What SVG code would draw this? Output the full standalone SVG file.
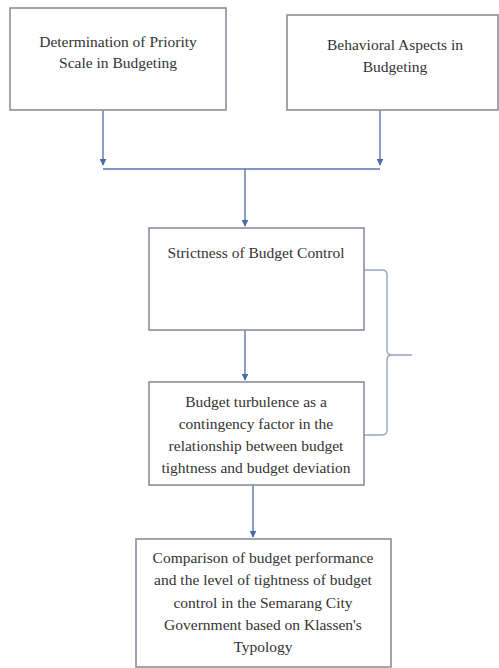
<svg xmlns="http://www.w3.org/2000/svg" width="499" height="668" viewBox="0 0 499 668">
<defs>
<marker id="ah" viewBox="0 0 10 10" refX="9" refY="5" markerWidth="7" markerHeight="7" markerUnits="userSpaceOnUse" orient="auto">
<path d="M0,0 L10,5 L0,10 z" fill="#4a6aa8"/>
</marker>
<style>
.box{fill:#ffffff;stroke:#8a8f99;stroke-width:1.6}
.t{font-family:'Liberation Serif','DejaVu Serif',serif;font-size:15.5px;fill:#333333;text-anchor:middle}
.c{fill:none;stroke:#5a76b0;stroke-width:1.4}
.br{fill:none;stroke:#9aa4bd;stroke-width:1.4}
</style>
</defs>
<rect width="499" height="668" fill="#ffffff"/>
<g id="connectors">
<path class="c" d="M103,110 V165" marker-end="url(#ah)"/>
<path class="c" d="M380,110 V165" marker-end="url(#ah)"/>
<path class="c" d="M103,169 H380"/>
<path class="c" d="M245,169 V226" marker-end="url(#ah)"/>
<path class="c" d="M245,330 V380" marker-end="url(#ah)"/>
<path class="c" d="M253,485 V537" marker-end="url(#ah)"/>
<path class="br" d="M364,270 H382 Q387,270 387,275 V350 Q387,355 392,355 H412 M392,355 Q387,355 387,360 V430 Q387,435 382,435 H364"/>
</g>
<g id="n1">
<rect class="box" x="10" y="8" width="216" height="102"/>
<text class="t" x="118" y="47">Determination of Priority</text>
<text class="t" x="118" y="68">Scale in Budgeting</text>
</g>
<g id="n2">
<rect class="box" x="287" y="15" width="211" height="95"/>
<text class="t" x="395" y="50">Behavioral Aspects in</text>
<text class="t" x="395" y="72">Budgeting</text>
</g>
<g id="n3">
<rect class="box" x="149" y="228" width="215" height="102"/>
<text class="t" x="256" y="258">Strictness of Budget Control</text>
</g>
<g id="n4">
<rect class="box" x="149" y="382" width="215" height="103"/>
<text class="t" x="256" y="407">Budget turbulence as a</text>
<text class="t" x="256" y="429">contingency factor in the</text>
<text class="t" x="256" y="451">relationship between budget</text>
<text class="t" x="256" y="473">tightness and budget deviation</text>
</g>
<g id="n5">
<rect class="box" x="136" y="539" width="255" height="128"/>
<text class="t" x="263" y="563">Comparison of budget performance</text>
<text class="t" x="263" y="585">and the level of tightness of budget</text>
<text class="t" x="263" y="608">control in the Semarang City</text>
<text class="t" x="263" y="630">Government based on Klassen's</text>
<text class="t" x="263" y="652">Typology</text>
</g>
</svg>
